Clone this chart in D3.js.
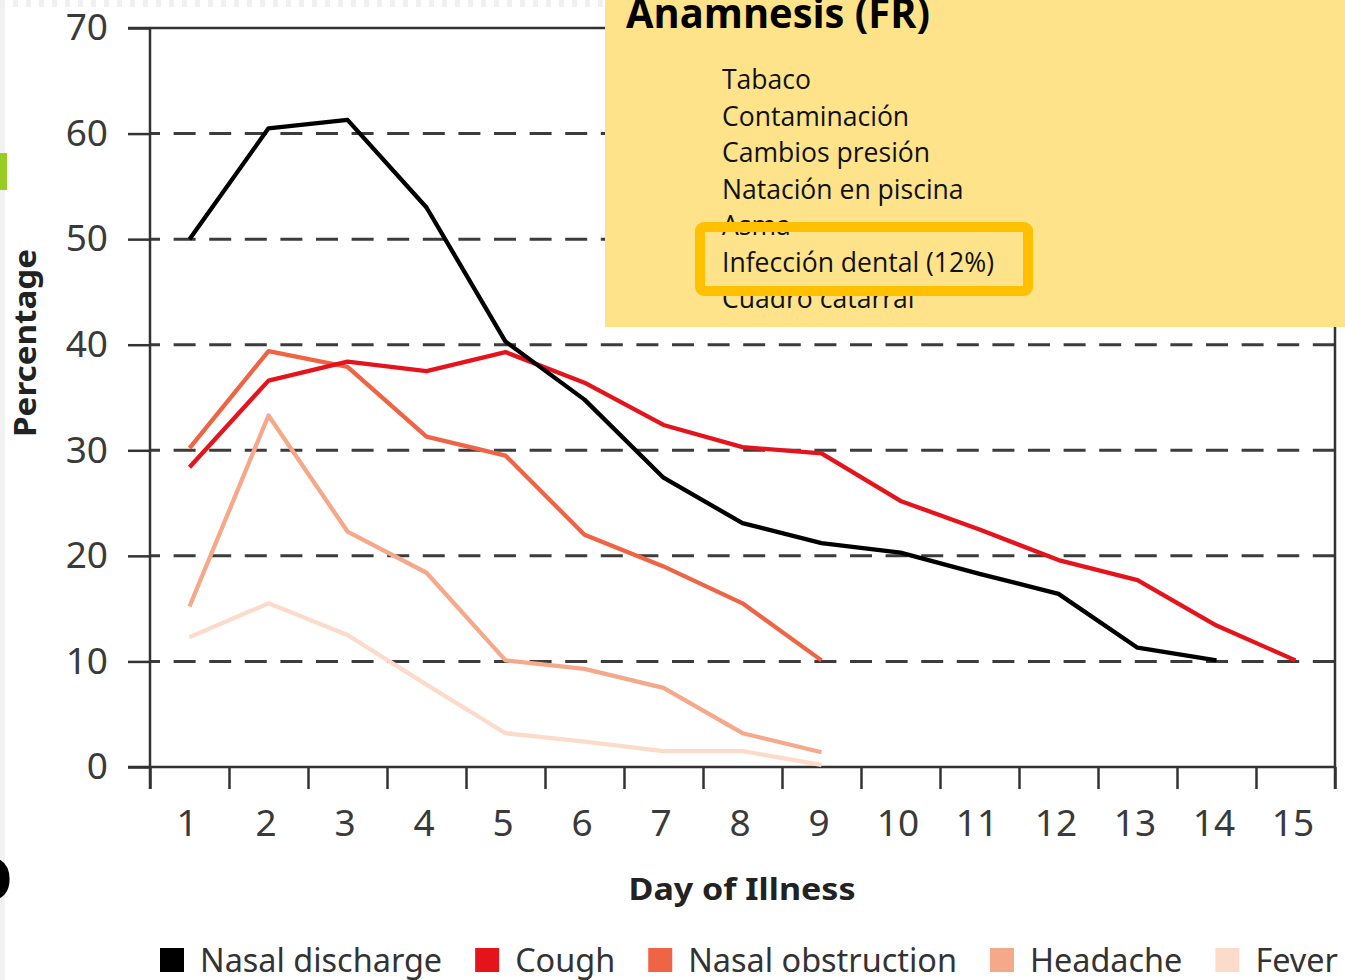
<!DOCTYPE html>
<html>
<head>
<meta charset="utf-8">
<script src="https://cdn.jsdelivr.net/npm/d3@7"></script>
<style>
  html, body { margin: 0; padding: 0; background: #fff; }
  svg { display: block; }
</style>
</head>
<body>
<svg id="canvas" width="1345" height="980"></svg>
<script>
// chart values
let days = [1, 2, 3, 4, 5, 6, 7, 8, 9, 10, 11, 12, 13, 14, 15]
let yTicks = [0, 10, 20, 30, 40, 50, 60, 70]
let nasalDischarge = [50, 60.5, 61.3, 53, 40.3, 34.8, 27.4, 23.1, 21.2, 20.3, 18.3, 16.4, 11.3, 10.1]
let cough = [28.4, 36.6, 38.4, 37.5, 39.3, 36.4, 32.4, 30.3, 29.7, 25.2, 22.5, 19.6, 17.7, 13.4, 10.1]
let nasalObstruction = [30.2, 39.4, 37.9, 31.3, 29.5, 22.0, 19.0, 15.5, 10.1]
let headache = [15.2, 33.3, 22.3, 18.4, 10.1, 9.3, 7.5, 3.2, 1.4]
let fever = [12.3, 15.5, 12.5, 7.8, 3.2, 2.4, 1.5, 1.5, 0.2]

let seriesNames = ['Nasal discharge', 'Cough', 'Nasal obstruction', 'Headache', 'Fever']
let seriesValues = [nasalDischarge, cough, nasalObstruction, headache, fever]
let seriesColors = ['#000000', '#e5141c', '#ef6445', '#f6a88b', '#fddbcb']

let boxTitle = 'Anamnesis (FR)'
let boxItems = ['Tabaco', 'Contaminación', 'Cambios presión', 'Natación en piscina', 'Asma', 'Infección dental (12%)', 'Cuadro catarral']
let highlighted = 'Infección dental (12%)'

let canvas = d3.select('#canvas')
let chartFont = '"Noto Sans", "Open Sans", sans-serif'

// slide leftovers at the edges
canvas.append('rect').attr('x', 0).attr('y', 0).attr('width', 5).attr('height', 980).attr('fill', '#f2f2f2')
canvas.append('line')
    .attr('x1', 0).attr('x2', 605).attr('y1', 3.5).attr('y2', 3.5)
    .attr('stroke', '#f0f0f0').attr('stroke-width', 7).attr('stroke-dasharray', '5,8')
canvas.append('rect').attr('x', 0).attr('y', 153).attr('width', 7).attr('height', 37).attr('fill', '#99cc22')
canvas.append('text')
    .attr('x', 13).attr('y', 900).attr('text-anchor', 'end')
    .style('font-family', chartFont).style('font-weight', 700).style('font-size', '60px')
    .text('O')

let x = d3.scaleLinear().domain([0.5, 15.5]).range([150, 1335])
let y = d3.scaleLinear().domain([0, 70]).range([767, 28])

// dashed grid
canvas.append('g')
    .selectAll('line')
    .data(yTicks.filter((t) => t > 0 && t < 70))
    .enter()
    .append('line')
    .attr('x1', x(0.5)).attr('x2', x(15.5))
    .attr('y1', (d) => y(d)).attr('y2', (d) => y(d))
    .attr('stroke', '#3c3c3c').attr('stroke-width', 3)
    .attr('stroke-dasharray', '22,13.6').attr('stroke-dashoffset', 12)

// left axis: ticks + labels
let yAxis = canvas.append('g')
    .attr('transform', `translate(${x(0.5)},0)`)
    .call(d3.axisLeft(y).tickValues(yTicks).tickSize(22).tickPadding(20))
yAxis.select('.domain').remove()
yAxis.selectAll('line').attr('stroke', '#333').attr('stroke-width', 2.5)
yAxis.selectAll('text')
    .style('font-family', chartFont).style('font-size', '37px').attr('fill', '#3a3a3a')

// bottom axis: boundary ticks, centred day labels
let xAxis = canvas.append('g')
    .attr('transform', `translate(0,${y(0)})`)
    .call(d3.axisBottom(x).tickValues(d3.range(0.5, 16, 1)).tickSize(22).tickFormat(''))
xAxis.select('.domain').remove()
xAxis.selectAll('line').attr('stroke', '#333').attr('stroke-width', 2.5)

let xLabels = canvas.append('g')
    .attr('transform', `translate(-3,${y(0)})`)
    .call(d3.axisBottom(x).tickValues(days).tickSize(0).tickPadding(43).tickFormat(d3.format('d')))
xLabels.select('.domain').remove()
xLabels.selectAll('text')
    .style('font-family', chartFont).style('font-size', '37px').attr('fill', '#3a3a3a')

// frame
let frame = canvas.append('g').attr('stroke', '#333').attr('stroke-width', 2.5)
frame.append('line').attr('x1', x(0.5)).attr('x2', x(0.5)).attr('y1', y(70)).attr('y2', y(0) + 22)
frame.append('line').attr('x1', x(15.5)).attr('x2', x(15.5)).attr('y1', y(70)).attr('y2', y(0) + 22)
frame.append('line').attr('x1', x(0.5) - 22).attr('x2', x(15.5)).attr('y1', y(70)).attr('y2', y(70))
frame.append('line').attr('x1', x(0.5) - 22).attr('x2', x(15.5)).attr('y1', y(0)).attr('y2', y(0))

// lines, lightest first so the black one sits on top
let line = d3.line()
    .x((d, i) => x(days[i]))
    .y((d) => y(d))

let order = [4, 3, 2, 1, 0]
canvas.append('g')
    .selectAll('path')
    .data(order)
    .enter()
    .append('path')
    .attr('d', (k) => line(seriesValues[k]))
    .attr('fill', 'none')
    .attr('stroke', (k) => seriesColors[k])
    .attr('stroke-width', 4.3)
    .attr('stroke-linejoin', 'round')

// axis titles
canvas.append('text')
    .attr('x', 742).attr('y', 900).attr('text-anchor', 'middle')
    .attr('textLength', 227).attr('lengthAdjust', 'spacingAndGlyphs')
    .style('font-family', chartFont).style('font-weight', 700).style('font-size', '31px').attr('fill', '#222')
    .text('Day of Illness')

canvas.append('text')
    .attr('transform', 'translate(36,343) rotate(-90)')
    .attr('text-anchor', 'middle')
    .attr('textLength', 188).attr('lengthAdjust', 'spacingAndGlyphs')
    .style('font-family', chartFont).style('font-weight', 700).style('font-size', '31px').attr('fill', '#222')
    .text('Percentage')

// legend, laid out left to right
let legend = canvas.append('g')
let legendTexts = legend.selectAll('text')
    .data(seriesNames)
    .enter()
    .append('text')
    .attr('y', 972)
    .style('font-family', chartFont).style('font-size', '33px').attr('fill', '#333')
    .text((d) => d)
let natural = legendTexts.nodes().map((n) => n.getComputedTextLength())
let squeeze = 846 / d3.sum(natural)
let cursor = 160
legendTexts.each(function (d, i) {
    let w = natural[i] * squeeze
    legend.append('rect')
        .attr('x', cursor).attr('y', 948).attr('width', 24).attr('height', 24)
        .attr('fill', seriesColors[i])
    d3.select(this)
        .attr('x', cursor + 40)
        .attr('textLength', w).attr('lengthAdjust', 'spacingAndGlyphs')
    cursor += 40 + w + 33
})

// yellow note box on top of the chart
let boxFont = '"Open Sans", "Noto Sans", sans-serif'
let box = canvas.append('g')
box.append('rect')
    .attr('x', 605).attr('y', 0).attr('width', 740).attr('height', 327)
    .attr('fill', '#fee38b')
box.append('text')
    .attr('x', 626).attr('y', 28)
    .attr('textLength', 304).attr('lengthAdjust', 'spacingAndGlyphs')
    .style('font-family', boxFont).style('font-weight', 700).style('font-size', '41px').attr('fill', '#000')
    .text(boxTitle)

let itemTexts = box.selectAll('text.item')
    .data(boxItems)
    .enter()
    .append('text')
    .attr('class', 'item')
    .attr('x', 722)
    .attr('y', (d, i) => 89 + i * 36.5)
    .style('font-family', boxFont).style('font-size', '27px').attr('fill', '#111')
    .text((d) => d)
let itemNatural = itemTexts.nodes().map((n) => n.getComputedTextLength())
let itemSqueeze = 272 / itemNatural[boxItems.indexOf(highlighted)]
itemTexts
    .attr('textLength', (d, i) => itemNatural[i] * itemSqueeze)
    .attr('lengthAdjust', 'spacingAndGlyphs')

box.append('rect')
    .attr('x', 700).attr('y', 227).attr('width', 328).attr('height', 64)
    .attr('rx', 4)
    .attr('fill', 'none')
    .attr('stroke', '#ffc000')
    .attr('stroke-width', 10)
</script>
</body>
</html>
